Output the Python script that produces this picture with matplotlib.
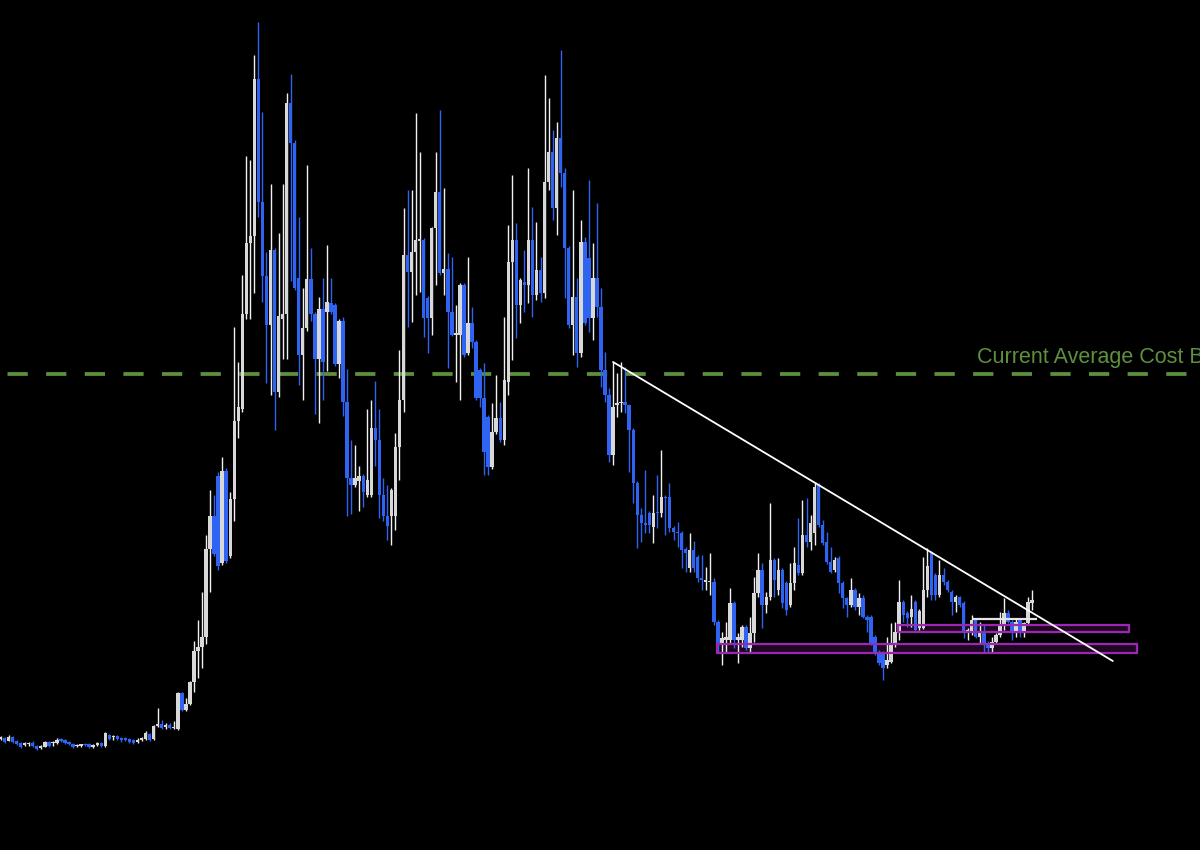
"""
Candlestick chart with descending trendline, support zones and average-cost line.

Usage:
    python plot.py
"""

import matplotlib

matplotlib.use("Agg")
import matplotlib.pyplot as plt
import numpy as np
from matplotlib.patches import Rectangle

# ---------------------------------------------------------------------------
# Data
# ---------------------------------------------------------------------------

OPENS = [
    111, 112, 109, 113, 109, 107, 105, 106, 107, 104,
    102, 103, 108, 107, 107, 111, 110, 108, 106, 104,
    104, 106, 106, 103, 105, 107, 104, 115, 113, 114,
    112, 112, 111, 110, 108, 110, 111, 116, 111, 124,
    126, 123, 125, 122, 121, 157, 140, 146, 168, 199,
    203, 213, 301, 334, 374, 287, 379, 294, 351, 429,
    441, 536, 607, 614, 771, 648, 574, 525, 600, 458,
    531, 536, 747, 707, 572, 495, 522, 571, 536, 491,
    541, 538, 547, 545, 486, 529, 448, 372, 365, 369,
    374, 355, 355, 422, 410, 355, 334, 334, 334, 403,
    450, 595, 578, 598, 609, 610, 552, 532, 622, 658,
    577, 581, 538, 515, 515, 565, 497, 527, 508, 480,
    452, 433, 383, 418, 432, 410, 468, 588, 610, 545,
    568, 565, 610, 555, 580, 557, 668, 698, 642, 712,
    677, 602, 525, 553, 497, 608, 592, 532, 572, 543,
    480, 455, 395, 445, 447, 448, 445, 420, 367, 335,
    327, 337, 323, 338, 337, 353, 353, 322, 318, 317,
    301, 282, 300, 293, 272, 268, 268, 268, 228, 205,
    210, 210, 247, 210, 210, 223, 202, 217, 257, 280,
    245, 253, 290, 260, 280, 267, 245, 267, 285, 277,
    315, 308, 317, 365, 325, 308, 288, 280, 292, 267,
    252, 245, 260, 243, 252, 233, 233, 213, 198, 197,
    185, 188, 205, 218, 248, 237, 233, 248, 222, 222,
    260, 297, 275, 255, 275, 268, 258, 248, 253, 247,
    219, 218, 230, 213, 218, 207, 202, 208, 215, 225,
    237, 228, 218, 230, 217, 227, 247,
]

HIGHS = [
    114, 113, 115, 114, 110, 108, 108, 108, 109, 105,
    105, 109, 109, 109, 112, 112, 111, 109, 107, 106,
    106, 107, 107, 106, 108, 108, 118, 116, 115, 115,
    113, 113, 112, 111, 112, 113, 119, 117, 125, 142,
    130, 127, 127, 129, 158, 158, 152, 169, 209, 230,
    258, 315, 360, 355, 378, 393, 382, 358, 523, 488,
    575, 694, 690, 795, 828, 738, 598, 666, 602, 617,
    666, 757, 776, 710, 633, 562, 685, 602, 538, 553,
    572, 605, 572, 547, 531, 533, 481, 410, 405, 384,
    376, 441, 450, 469, 441, 372, 365, 362, 417, 500,
    642, 660, 660, 737, 698, 612, 554, 623, 698, 740,
    662, 597, 593, 545, 567, 567, 593, 543, 510, 482,
    487, 435, 447, 475, 448, 533, 625, 675, 627, 572,
    600, 682, 643, 628, 593, 775, 752, 720, 728, 800,
    682, 604, 660, 572, 630, 613, 670, 607, 647, 562,
    498, 462, 488, 477, 488, 483, 446, 422, 369, 342,
    380, 339, 355, 375, 400, 355, 367, 324, 328, 319,
    303, 317, 309, 295, 295, 283, 297, 272, 230, 218,
    228, 262, 249, 217, 225, 225, 233, 273, 297, 287,
    258, 347, 292, 292, 282, 269, 287, 303, 332, 350,
    352, 335, 367, 367, 330, 318, 303, 293, 294, 269,
    253, 272, 262, 257, 255, 235, 235, 215, 200, 199,
    213, 227, 228, 270, 250, 239, 255, 250, 241, 293,
    302, 299, 277, 290, 282, 270, 260, 255, 254, 249,
    222, 235, 232, 228, 225, 209, 213, 217, 238, 252,
    240, 230, 232, 232, 228, 253, 260,
]

LOWS = [
    110, 107, 109, 107, 105, 102, 104, 104, 103, 100,
    101, 103, 103, 104, 106, 108, 106, 105, 102, 103,
    103, 104, 102, 102, 104, 103, 103, 110, 110, 110,
    108, 109, 107, 106, 107, 109, 110, 109, 110, 123,
    121, 121, 121, 121, 120, 139, 139, 145, 158, 172,
    182, 206, 258, 294, 280, 285, 287, 292, 329, 412,
    438, 531, 531, 557, 633, 548, 467, 455, 420, 453,
    491, 491, 569, 560, 465, 450, 519, 529, 436, 427,
    450, 479, 536, 484, 472, 434, 334, 336, 363, 339,
    343, 353, 353, 384, 332, 329, 310, 305, 320, 370,
    438, 523, 528, 555, 558, 513, 497, 515, 565, 575,
    555, 482, 514, 468, 450, 493, 495, 502, 450, 443,
    375, 375, 381, 416, 408, 405, 455, 490, 512, 527,
    538, 547, 533, 550, 548, 552, 660, 630, 615, 663,
    552, 522, 495, 483, 493, 525, 518, 510, 533, 463,
    448, 388, 385, 433, 438, 437, 378, 347, 302, 308,
    317, 317, 307, 322, 333, 315, 318, 310, 303, 282,
    278, 278, 278, 268, 260, 260, 255, 225, 198, 185,
    197, 207, 202, 187, 203, 200, 197, 208, 253, 222,
    237, 250, 253, 255, 242, 235, 243, 260, 275, 275,
    303, 300, 305, 323, 305, 286, 277, 278, 257, 242,
    233, 243, 240, 235, 232, 218, 205, 195, 185, 170,
    182, 187, 203, 210, 228, 223, 223, 218, 220, 221,
    253, 250, 250, 253, 265, 258, 235, 238, 243, 212,
    210, 215, 212, 207, 198, 197, 197, 207, 213, 220,
    227, 210, 213, 213, 213, 225, 240,
]

CLOSES = [
    113, 108, 113, 108, 106, 103, 107, 107, 104, 101,
    104, 108, 104, 108, 110, 109, 107, 106, 103, 105,
    106, 105, 103, 105, 107, 104, 117, 111, 114, 111,
    110, 110, 108, 107, 110, 112, 117, 110, 124, 126,
    122, 125, 122, 123, 157, 140, 146, 168, 199, 203,
    213, 301, 334, 296, 284, 379, 289, 351, 429, 443,
    536, 607, 614, 771, 648, 574, 525, 600, 458, 534,
    536, 747, 707, 562, 495, 522, 571, 536, 491, 541,
    488, 548, 538, 486, 529, 448, 372, 365, 372, 374,
    358, 370, 422, 410, 355, 334, 324, 360, 403, 450,
    595, 578, 598, 610, 611, 532, 532, 622, 658, 577,
    581, 538, 515, 517, 565, 495, 527, 508, 452, 452,
    398, 383, 418, 432, 410, 470, 588, 610, 545, 570,
    565, 610, 555, 580, 557, 668, 698, 642, 712, 677,
    602, 525, 553, 497, 608, 527, 532, 572, 543, 480,
    455, 395, 443, 447, 448, 445, 420, 367, 335, 327,
    325, 325, 337, 337, 353, 352, 322, 318, 317, 300,
    297, 300, 282, 272, 270, 270, 269, 228, 205, 212,
    213, 247, 210, 213, 223, 202, 217, 257, 280, 245,
    253, 290, 270, 280, 247, 240, 267, 287, 277, 315,
    308, 327, 363, 325, 307, 288, 278, 290, 267, 252,
    245, 260, 243, 252, 233, 230, 207, 198, 187, 182,
    190, 205, 218, 248, 235, 232, 241, 220, 239, 260,
    284, 255, 255, 275, 268, 260, 248, 253, 245, 218,
    220, 230, 213, 218, 205, 202, 208, 215, 225, 237,
    228, 218, 228, 218, 227, 248, 250,
]

# Drawings on the chart (bar index / price)
AVG_COST = 476
AVG_COST_LABEL = "Current Average Cost Basis"
LABEL_BAR = 242.4
LABEL_PRICE = 487

TREND_BARS = [152, 276]
TREND_PRICES = [488, 189]

# support zones: (first bar, last bar), (bottom price, top price)
ZONE_BARS = [(222.8, 280.1), (177.9, 282.1)]
ZONE_PRICES = [(218, 225), (197, 206)]

MARK_BARS = [241.2, 257.3]
MARK_PRICE = 231

# ---------------------------------------------------------------------------
# Style
# ---------------------------------------------------------------------------

BG = "#000000"
UP_BODY = "#d8d8d8"
UP_WICK = "#f0f0f0"
DOWN = "#2f63f2"
GREEN = "#5e913d"
PURPLE = "#9c27b0"
BAR_PX = 4.03  # pixels per bar in the reference


def draw_candles(ax):
    o = np.array(OPENS, dtype=float)
    h = np.array(HIGHS, dtype=float)
    l = np.array(LOWS, dtype=float)
    c = np.array(CLOSES, dtype=float)
    x = np.arange(len(o))
    up = c >= o
    colors = np.where(up, UP_BODY, DOWN)
    wick_colors = np.where(up, UP_WICK, DOWN)

    ax.vlines(x, l, h, colors=wick_colors, linewidth=1.0, zorder=2)
    bottom = np.minimum(o, c)
    height = np.maximum(np.abs(c - o), 1.5)
    ax.bar(x, height, bottom=bottom, width=0.84, color=colors,
           linewidth=0, zorder=3)


def draw_annotations(ax):
    # average cost basis
    ax.axhline(AVG_COST, color=GREEN, linewidth=2.7,
               linestyle=(8.3, (5.4, 4.9)), zorder=1)
    ax.text(LABEL_BAR, LABEL_PRICE, AVG_COST_LABEL, color=GREEN,
            fontsize=15.5, family=["Liberation Sans", "DejaVu Sans"],
            ha="left", va="baseline", zorder=5)

    # descending trendline
    ax.plot(TREND_BARS, TREND_PRICES, color="white", linewidth=1.3,
            solid_capstyle="round", zorder=6)

    # support zones
    for (b0, b1), (p0, p1) in zip(ZONE_BARS, ZONE_PRICES):
        ax.add_patch(Rectangle((b0, p0), b1 - b0, p1 - p0,
                               facecolor=PURPLE, alpha=0.2, linewidth=0, zorder=1))
        ax.add_patch(Rectangle((b0, p0), b1 - b0, p1 - p0,
                               fill=False, edgecolor=PURPLE, linewidth=1.6, zorder=4))

    # short horizontal marker over the last bars
    ax.hlines(MARK_PRICE, MARK_BARS[0], MARK_BARS[1], color="#e6e6e6",
              linewidth=1.6, zorder=5)


def main():
    fig = plt.figure(figsize=(12, 8.5), dpi=100, facecolor=BG)
    ax = fig.add_axes([0, 0, 1, 1])
    ax.set_facecolor(BG)

    draw_candles(ax)
    draw_annotations(ax)

    ax.set_xlim(-0.5 / BAR_PX, (1200 - 0.5) / BAR_PX)
    ax.set_ylim(0, 850)
    ax.axis("off")

    fig.savefig("out.png", dpi=100, facecolor=BG, edgecolor="none")
    plt.close(fig)


if __name__ == "__main__":
    main()
